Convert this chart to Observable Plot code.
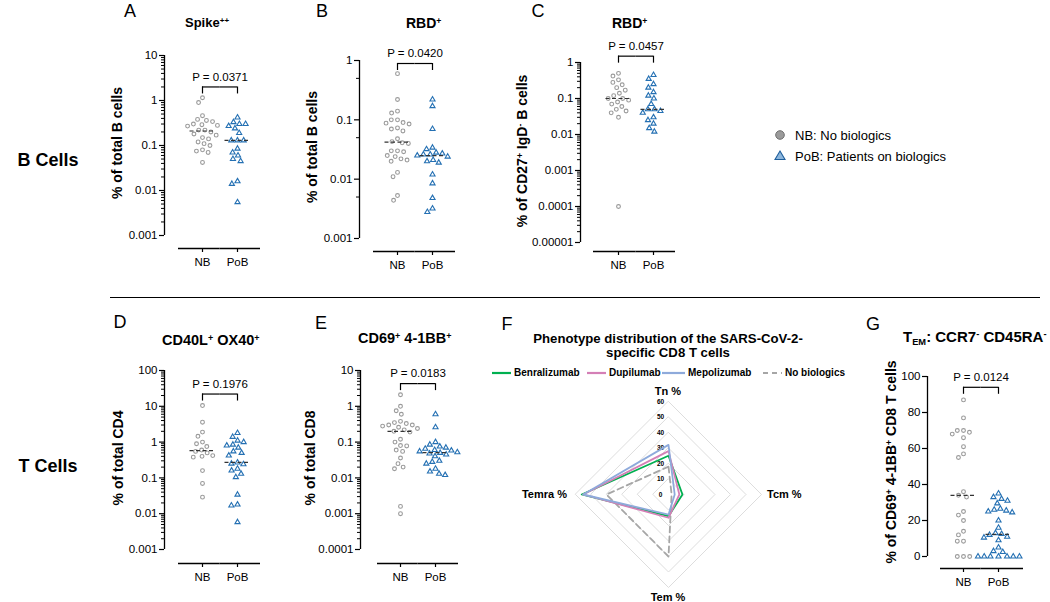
<!DOCTYPE html>
<html>
<head>
<meta charset="utf-8">
<script src="https://cdn.jsdelivr.net/npm/d3@7"></script>
<script src="https://cdn.jsdelivr.net/npm/@observablehq/plot@0.6"></script>
<style>
  html, body { margin: 0; padding: 0; background: #fff; }
  #fig { position: relative; width: 1050px; height: 602px; overflow: hidden; font-family: "Liberation Sans", Arial, Helvetica, sans-serif; color: #000; }
  #fig > svg { position: absolute; overflow: visible; }
  .t { position: absolute; white-space: nowrap; line-height: 1; }
  .sup { font-size: 0.62em; position: relative; top: -0.5em; }
  .sub { font-size: 0.62em; position: relative; top: 0.3em; }
</style>
</head>
<body>
<div id="fig"></div>
<script>
const FONT = '"Liberation Sans", Arial, Helvetica, sans-serif';
const groups = ["NB", "PoB"];

// ---- Panel A: Spike++ (% of total B cells)
const spikeNB = [1.15, 0.9, 0.46, 0.38, 0.36, 0.34, 0.3, 0.29, 0.28, 0.27, 0.22, 0.22, 0.2, 0.18, 0.17, 0.15, 0.14, 0.12, 0.11, 0.1, 0.08, 0.075, 0.07, 0.042];
const spikePoB = [0.42, 0.33, 0.3, 0.3, 0.27, 0.24, 0.19, 0.13, 0.13, 0.13, 0.085, 0.07, 0.06, 0.05, 0.045, 0.016, 0.014, 0.0055];
const spikeTicks = [0.001, 0.01, 0.1, 1, 10];

// ---- Panel B: RBD+ (% of total B cells)
const rbdNB = [0.6, 0.22, 0.14, 0.13, 0.1, 0.1, 0.09, 0.088, 0.085, 0.073, 0.07, 0.065, 0.048, 0.043, 0.041, 0.04, 0.03, 0.03, 0.029, 0.025, 0.024, 0.022, 0.021, 0.02, 0.013, 0.011, 0.0053, 0.0044];
const rbdPoB = [0.22, 0.17, 0.07, 0.034, 0.032, 0.028, 0.027, 0.026, 0.026, 0.025, 0.024, 0.021, 0.02, 0.019, 0.012, 0.0085, 0.0048, 0.0032, 0.0028];
const rbdTicks = [0.001, 0.01, 0.1, 1];
const rbdMinor = [0.005, 0.05, 0.5];

// ---- Panel C: RBD+ (% of CD27+ IgD- B cells)
const memNB = [0.5, 0.42, 0.33, 0.28, 0.24, 0.2, 0.17, 0.14, 0.12, 0.1, 0.1, 0.09, 0.08, 0.07, 0.06, 0.05, 0.045, 0.04, 0.03, 0.0001];
const memPoB = [0.45, 0.35, 0.25, 0.2, 0.15, 0.12, 0.1, 0.07, 0.05, 0.05, 0.045, 0.04, 0.03, 0.025, 0.02, 0.015, 0.012];
const memTicks = [0.00001, 0.0001, 0.001, 0.01, 0.1, 1];

// ---- Panel D: CD40L+ OX40+ (% of total CD4)
const cd4NB = [10.5, 3.6, 1.9, 1.45, 1.0, 0.9, 0.75, 0.6, 0.55, 0.5, 0.42, 0.4, 0.38, 0.16, 0.07, 0.029];
const cd4PoB = [1.8, 1.4, 1.1, 1.0, 0.85, 0.8, 0.7, 0.55, 0.5, 0.42, 0.27, 0.25, 0.24, 0.18, 0.16, 0.13, 0.105, 0.034, 0.018, 0.017, 0.0058];
const cd4Ticks = [0.001, 0.01, 0.1, 1, 10, 100];

// ---- Panel E: CD69+ 4-1BB+ (% of total CD8)
const cd8NB = [2.1, 1.0, 0.75, 0.6, 0.38, 0.35, 0.33, 0.3, 0.3, 0.28, 0.26, 0.24, 0.22, 0.2, 0.19, 0.12, 0.1, 0.08, 0.078, 0.06, 0.055, 0.036, 0.025, 0.02, 0.018, 0.0016, 0.001];
const cd8PoB = [0.6, 0.26, 0.1, 0.085, 0.075, 0.07, 0.065, 0.06, 0.058, 0.055, 0.052, 0.05, 0.048, 0.045, 0.04, 0.03, 0.028, 0.025, 0.018, 0.015, 0.013, 0.012];
const cd8Ticks = [0.0001, 0.001, 0.01, 0.1, 1, 10];

// ---- Panel F: phenotype distribution (radar)
const phenoAxes = ["Tn %", "Tcm %", "Tem %", "Temra %"];
const benralizumab = [25, 9, 14, 56];
const dupilumab = [28, 7, 15, 55];
const mepolizumab = [32, 4, 13, 55];
const noBiologics = [18, 2, 40, 40];
const radarSeries = ["Benralizumab", "Dupilumab", "Mepolizumab", "No biologics"];
const radarColors = ["#00b050", "#d47fb6", "#8eaadb", "#a6a6a6"];
const ringLevels = [0, 10, 20, 30, 40, 50, 60];

// ---- Panel G: TEM (% of CD69+ 4-1BB+ CD8 T cells)
const temNB = [87, 77, 70, 70, 69, 68, 66, 61, 57, 55, 36, 34, 33, 25, 23, 20, 14, 12, 8.5, 8.5, 0, 0, 0];
const temPoB = [35, 33, 32, 31, 29.5, 26.5, 26, 25.5, 25, 24.5, 20, 16, 13, 12.5, 12, 11, 10.5, 9, 5, 3, 2.5, 0, 0, 0, 0, 0, 0, 0];
const temTicks = [0, 20, 40, 60, 80, 100];

const fig = document.getElementById("fig");

function logMinor(ticks) {
  const out = [];
  for (let i = 0; i < ticks.length - 1; i++) for (let k = 2; k <= 9; k++) out.push(+(ticks[i] * k).toPrecision(3));
  return out;
}
const fmtLog = d => String(d);

function swarmPanel(c) {
  const fw = c.pobX - c.nbX;
  const facetLeft = c.nbX - fw / 2;
  const facetRight = c.pobX + fw / 2;
  const svgLeft = c.axisX - 62;
  const svgTop = Math.max(0, c.yTop - 28);
  const width = c.lineX2 + 8 - svgLeft;
  const height = c.xLineY + 26 - svgTop;
  const marginLeft = facetLeft - svgLeft;
  const marginRight = width - (facetRight - svgLeft);
  const marginTop = c.yTop - svgTop;
  const marginBottom = height - (c.yBot - svgTop);
  const dAx = c.axisX - facetLeft;
  const dLine = c.xLineY - c.yBot;
  const ymin = c.domain[0], ymax = c.domain[1];
  const nbRows = c.nb.map(v => ({g: "NB", v}));
  const pobRows = c.pob.map(v => ({g: "PoB", v}));
  const rows = nbRows.concat(pobRows);
  const marks = [
    Plot.ruleX([{g: "NB"}], {fx: "g", x: () => 0, y1: () => ymin, y2: () => ymax, dx: dAx, stroke: "#000", strokeWidth: 1.3}),
    Plot.axisY({ticks: c.ticks, tickFormat: c.format, tickSize: 5, tickPadding: 2, dx: dAx, fontSize: 11.5, strokeWidth: 1.2, label: null, anchor: "left"}),
  ];
  if (c.minor && c.minor.length) {
    marks.push(Plot.axisY({ticks: c.minor, tickFormat: () => "", tickSize: 3, dx: dAx, strokeWidth: 1, label: null, anchor: "left"}));
  }
  marks.push(
    Plot.ruleY([{g: "NB"}], {fx: "g", y: () => ymin, dy: dLine, insetLeft: c.lineX1 - facetLeft, stroke: "#000", strokeWidth: 1.3}),
    Plot.ruleY([{g: "PoB"}], {fx: "g", y: () => ymin, dy: dLine, insetRight: facetRight - c.lineX2, stroke: "#000", strokeWidth: 1.3}),
    Plot.ruleX(groups, {fx: d => d, x: () => 0.5, y1: () => ymin, y2: () => ymin, dy: dLine, insetBottom: -4, stroke: "#000", strokeWidth: 1.2}),
    Plot.text(groups, {fx: d => d, x: () => 0.5, y: () => ymin, dy: dLine + 14, text: d => d, fontSize: 11.5}),
    Plot.dot(nbRows, Plot.dodgeX({anchor: "middle", padding: 2.4}, {fx: "g", y: "v", r: 1.9, stroke: "#9a9a9a", strokeWidth: 1.1, fill: "white"})),
    Plot.dot(pobRows, Plot.dodgeX({anchor: "middle", padding: 2.4}, {fx: "g", y: "v", r: 1.9, symbol: "triangle", stroke: "#2470b3", strokeWidth: 1.1, fill: "white"})),
    Plot.tickY(rows, Plot.groupZ({y: "median"}, {fx: "g", y: "v", stroke: "#333", strokeWidth: 1.2, strokeDasharray: "4,2.5", insetLeft: 5, insetRight: 5})),
    Plot.ruleY(groups, {fx: d => d, x1: d => d === "NB" ? 0.5 : 0, x2: d => d === "NB" ? 1 : 0.5, y: () => c.bracket, stroke: "#000", strokeWidth: 1.2}),
    Plot.ruleX(groups, {fx: d => d, x: () => 0.5, y1: () => c.bracket, y2: () => c.bracket, insetBottom: -7, stroke: "#000", strokeWidth: 1.2}),
    Plot.text([c.p], {fx: () => "NB", x: () => 1, y: () => c.bracket, dy: -10, text: d => d, fontSize: 11.5})
  );
  const svg = Plot.plot({
    width, height, marginLeft, marginRight, marginTop, marginBottom,
    style: {fontFamily: FONT, fontSize: "11.5px", background: "transparent", color: "#000", overflow: "visible"},
    fx: {domain: groups, padding: 0, round: false, axis: null, label: null},
    x: {domain: [0, 1], axis: null},
    y: {type: c.type, domain: c.domain, axis: null},
    marks
  });
  svg.style.left = svgLeft + "px";
  svg.style.top = svgTop + "px";
  fig.appendChild(svg);
}

swarmPanel({nb: spikeNB, pob: spikePoB, type: "log", domain: [0.001, 10], ticks: spikeTicks, minor: logMinor(spikeTicks), format: fmtLog,
  axisX: 164, nbX: 202, pobX: 237, yTop: 55, yBot: 235, xLineY: 248, lineX1: 178, lineX2: 260, bracket: 2, p: "P = 0.0371"});
swarmPanel({nb: rbdNB, pob: rbdPoB, type: "log", domain: [0.001, 1], ticks: rbdTicks, minor: rbdMinor, format: fmtLog,
  axisX: 359, nbX: 397, pobX: 432, yTop: 60, yBot: 238, xLineY: 251, lineX1: 373, lineX2: 455, bracket: 0.89, p: "P = 0.0420"});
swarmPanel({nb: memNB, pob: memPoB, type: "log", domain: [0.00001, 1], ticks: memTicks, minor: logMinor(memTicks), format: fmtLog,
  axisX: 580, nbX: 618, pobX: 653, yTop: 62, yBot: 242, xLineY: 251, lineX1: 593, lineX2: 675, bracket: 1.5, p: "P = 0.0457"});
swarmPanel({nb: cd4NB, pob: cd4PoB, type: "log", domain: [0.001, 100], ticks: cd4Ticks, minor: logMinor(cd4Ticks), format: fmtLog,
  axisX: 164, nbX: 202, pobX: 237, yTop: 370, yBot: 549, xLineY: 563, lineX1: 178, lineX2: 260, bracket: 22, p: "P = 0.1976"});
swarmPanel({nb: cd8NB, pob: cd8PoB, type: "log", domain: [0.0001, 10], ticks: cd8Ticks, minor: logMinor(cd8Ticks), format: fmtLog,
  axisX: 360, nbX: 400, pobX: 435, yTop: 370, yBot: 549, xLineY: 563, lineX1: 377, lineX2: 458, bracket: 4.3, p: "P = 0.0183"});
swarmPanel({nb: temNB, pob: temPoB, type: "linear", domain: [0, 100], ticks: temTicks, minor: [], format: d => String(d),
  axisX: 927, nbX: 963, pobX: 998, yTop: 376, yBot: 556, xLineY: 568, lineX1: 940, lineX2: 1023, bracket: 94, p: "P = 0.0124"});

// ---- Radar (panel F)
(function radar() {
  const seriesVals = [benralizumab, dupilumab, mepolizumab, noBiologics];
  const rows = radarSeries.flatMap((s, k) => seriesVals[k].map((v, i) => ({series: s, axis: i, v})));
  const ringRows = ringLevels.filter(r => r > 0).flatMap(r => phenoAxes.map((a, i) => ({ring: r, axis: i, v: r})));
  const px = d => d.v * Math.sin(d.axis * Math.PI / 2);
  const py = d => d.v * Math.cos(d.axis * Math.PI / 2);
  const outer = ringLevels[ringLevels.length - 1];
  const svgLeft = 515, svgTop = 380;
  const cx = 668 - svgLeft, cy = 494 - svgTop, R = 93;
  const svg = Plot.plot({
    width: 300, height: 222, margin: 0,
    style: {fontFamily: FONT, background: "transparent", color: "#000", overflow: "visible"},
    x: {domain: [-outer, outer], range: [cx - R, cx + R], axis: null},
    y: {domain: [-outer, outer], range: [cy + R, cy - R], axis: null},
    color: {domain: radarSeries, range: radarColors},
    marks: [
      Plot.line(ringRows, {x: px, y: py, z: "ring", curve: "linear-closed", stroke: "#d9d9d9", strokeWidth: 0.9}),
      Plot.text(ringLevels, {x: () => 0, y: d => d, text: d => String(d), dx: -8, fontSize: 6.5, fontWeight: "bold"}),
      Plot.line(rows.filter(d => d.series === "No biologics"), {x: px, y: py, z: "series", stroke: "series", curve: "linear-closed", strokeWidth: 1.8, strokeDasharray: "6,4"}),
      Plot.line(rows.filter(d => d.series !== "No biologics"), {x: px, y: py, z: "series", stroke: "series", curve: "linear-closed", strokeWidth: 1.8})
    ]
  });
  svg.style.left = svgLeft + "px";
  svg.style.top = svgTop + "px";
  fig.appendChild(svg);
})();

// ---- HTML text
function txt(html, x, y, o = {}) {
  const {anchor = "start", size = 13, weight = "normal", rotate = false, color = "#000"} = o;
  const el = document.createElement("div");
  el.className = "t";
  el.innerHTML = html;
  el.style.left = x + "px";
  el.style.top = y + "px";
  el.style.fontSize = size + "px";
  el.style.fontWeight = weight;
  el.style.color = color;
  const tx = anchor === "start" ? "0" : anchor === "middle" ? "-50%" : "-100%";
  el.style.transform = rotate ? "translate(-50%,-50%) rotate(-90deg)" : `translate(${tx},-50%)`;
  fig.appendChild(el);
}
const sup = s => `<span class="sup">${s}</span>`;

[["A", 130, 11], ["B", 322, 11], ["C", 538, 11], ["D", 120, 322], ["E", 321, 323], ["F", 507, 324], ["G", 873, 324]]
  .forEach(([l, x, y]) => txt(l, x, y, {anchor: "middle", size: 18}));

txt("Spike" + sup("++"), 185, 23, {size: 13, weight: "bold"});
txt("RBD" + sup("+"), 406, 23, {size: 14, weight: "bold"});
txt("RBD" + sup("+"), 612, 23, {size: 14, weight: "bold"});
txt("CD40L" + sup("+") + " OX40" + sup("+"), 162, 340, {size: 14.5, weight: "bold"});
txt("CD69" + sup("+") + " 4-1BB" + sup("+"), 358, 338, {size: 14.5, weight: "bold"});
txt('T<span class="sub">EM</span>: CCR7' + sup("-") + " CD45RA" + sup("-"), 903, 337, {size: 15, weight: "bold"});
txt("Phenotype distribution of the SARS-CoV-2-", 668, 339, {anchor: "middle", size: 13.2, weight: "bold"});
txt("specific CD8 T cells", 668, 353, {anchor: "middle", size: 13.2, weight: "bold"});

txt("% of total B cells", 117, 143, {rotate: true, size: 14, weight: "bold"});
txt("% of total B cells", 312, 147, {rotate: true, size: 14, weight: "bold"});
txt("% of CD27" + sup("+") + " IgD" + sup("-") + " B cells", 522, 151, {rotate: true, size: 14, weight: "bold"});
txt("% of total CD4", 118, 458, {rotate: true, size: 14, weight: "bold"});
txt("% of total CD8", 310, 458, {rotate: true, size: 14, weight: "bold"});
txt("% of CD69" + sup("+") + " 4-1BB" + sup("+") + " CD8 T cells", 891, 462, {rotate: true, size: 14, weight: "bold"});

txt("Tn %", 668, 391, {anchor: "middle", size: 11, weight: "bold"});
txt("Tcm %", 767, 494, {anchor: "start", size: 11, weight: "bold"});
txt("Tem %", 668, 597, {anchor: "middle", size: 11, weight: "bold"});
txt("Temra %", 567, 494, {anchor: "end", size: 11, weight: "bold"});

txt("B Cells", 48, 160, {anchor: "middle", size: 18, weight: "bold"});
txt("T Cells", 48, 466, {anchor: "middle", size: 18, weight: "bold"});

const sep = document.createElement("div");
sep.style.cssText = "position:absolute;left:110px;top:297px;width:930px;height:0;border-top:1px solid #000;";
fig.appendChild(sep);

const legF = [[492, 514, "Benralizumab", radarColors[0], ""], [587, 609, "Dupilumab", radarColors[1], ""], [662, 688, "Mepolizumab", radarColors[2], ""], [763, 785, "No biologics", radarColors[3], "5,4"]];
legF.forEach(([x0, tx, name, col, dash]) => {
  const s = document.createElementNS("http://www.w3.org/2000/svg", "svg");
  s.setAttribute("width", 22); s.setAttribute("height", 6);
  s.style.cssText = `position:absolute;left:${x0}px;top:370px;`;
  s.innerHTML = `<line x1="0" x2="${tx - x0 - 3}" y1="3" y2="3" stroke="${col}" stroke-width="2.2" ${dash ? `stroke-dasharray="${dash}"` : ""}/>`;
  fig.appendChild(s);
  txt(name, tx, 373, {size: 10, weight: "bold"});
});

const lg = document.createElementNS("http://www.w3.org/2000/svg", "svg");
lg.setAttribute("width", 20); lg.setAttribute("height", 40);
lg.style.cssText = "position:absolute;left:770px;top:125px;";
lg.innerHTML = `<circle cx="10" cy="10" r="4.3" fill="#9b9b9b" stroke="#6f6f6f" stroke-width="1"/>
<path d="M10,26 L15,34.5 L5,34.5 Z" fill="#8db6dc" stroke="#1f5f9c" stroke-width="1.1"/>`;
fig.appendChild(lg);
txt("NB: No biologics", 795, 135, {size: 13});
txt("PoB: Patients on biologics", 795, 156, {size: 13});
</script>
</body>
</html>
